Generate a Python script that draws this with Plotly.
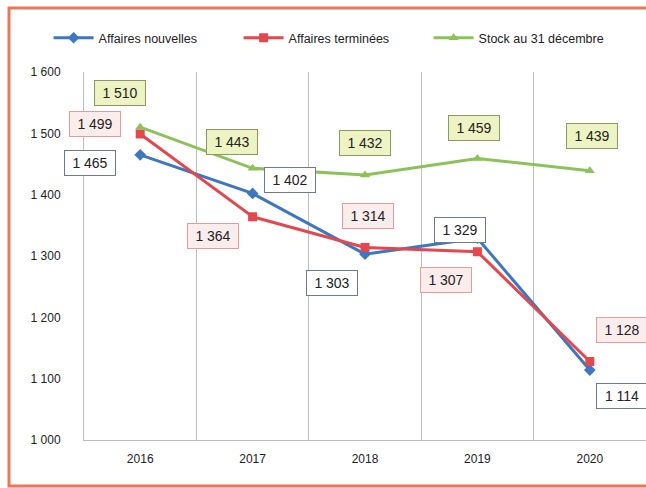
import plotly.graph_objects as go

YEARS = ["2016", "2017", "2018", "2019", "2020"]
NOUVELLES = [1465, 1402, 1303, 1329, 1114]
TERMINEES = [1499, 1364, 1314, 1307, 1128]
STOCK = [1510, 1443, 1432, 1459, 1439]

# label offsets in px (dx, dy), dy positive = up
OFF_NOUV = [(-50, -8), (37, 13), (-33, -29), (-17, 8), (32, -26)]
OFF_TERM = [(-45, 10), (-40, -19), (3, 31), (-31, -28), (32, 31)]
OFF_STOCK = [(-20, 34), (-21, 26), (0, 32), (-3, 30), (2, 35)]

W, H = 646, 488
M = dict(l=84, r=0, t=72, b=48)

SERIES = [
    ("Affaires nouvelles", NOUVELLES, OFF_NOUV, "#3D77C2", "diamond",
     dict(bgcolor="#ffffff", bordercolor="#6E7893")),
    ("Affaires terminées", TERMINEES, OFF_TERM, "#E2484D", "square",
     dict(bgcolor="#FCEDED", bordercolor="#E79A9C")),
    ("Stock au 31 décembre", STOCK, OFF_STOCK, "#8DC25A", "triangle-up",
     dict(bgcolor="#EEF3C4", bordercolor="#8C9860")),
]

xpos = list(range(len(YEARS)))

fig = go.Figure()
annotations = []
for name, vals, offs, color, symbol, box in SERIES:
    fig.add_trace(go.Scatter(
        x=xpos, y=vals, name=name, mode="lines+markers",
        line=dict(color=color, width=3),
        marker=dict(symbol=symbol, size=9, color=color),
    ))
    for xi, v, (dx, dy) in zip(xpos, vals, offs):
        annotations.append(dict(
            x=xi, y=v, xshift=dx, yshift=dy, showarrow=False,
            text=f"{v:,}".replace(",", " "),
            font=dict(size=14, color="#222222"),
            width=44, height=18,
            borderwidth=1, borderpad=3, **box,
        ))

# orange frame around the chart, in paper coords
pw = W - M["l"] - M["r"]
ph = H - M["t"] - M["b"]
fx0 = (9 - M["l"]) / pw
fx1 = (W + 10 - M["l"]) / pw
fy0 = (H - M["b"] - 486) / ph
fy1 = (H - M["b"] - 8) / ph

fig.update_layout(
    width=W, height=H,
    margin=M,
    paper_bgcolor="#ffffff",
    plot_bgcolor="#ffffff",
    separators=", ",
    font=dict(family="Liberation Sans, Arial, sans-serif", size=11, color="#222222"),
    showlegend=True,
    legend=dict(
        orientation="h", x=-0.063, y=1.092, xanchor="left", yanchor="middle",
        entrywidth=135, font=dict(size=12.5, color="#222222"),
        itemwidth=40,
    ),
    xaxis=dict(
        range=[-0.5, len(YEARS) - 0.5],
        tickvals=xpos, ticktext=YEARS, showgrid=False,
        minor=dict(tick0=-0.5, dtick=1, showgrid=True, gridcolor="#BDBDBD", gridwidth=1),
        ticks="", showline=True, linecolor="#BDBDBD", linewidth=1,
        tickfont=dict(size=12, color="#222222"), ticklabelstandoff=8,
        zeroline=False,
    ),
    yaxis=dict(
        range=[1000, 1600], dtick=100, tickformat=",d",
        showgrid=False, zeroline=False, ticks="",
        showline=True, linecolor="#BDBDBD", linewidth=1,
        tickfont=dict(size=12, color="#222222"), ticklabelstandoff=20,
    ),
    annotations=annotations,
    shapes=[dict(
        type="rect", xref="paper", yref="paper",
        x0=fx0, x1=fx1, y0=fy0, y1=fy1,
        line=dict(color="#E9785A", width=3), layer="below",
    )],
)

# drop the default body margin so the figure sits at the page origin
fig.write_html(
    "out.html",
    config={"displayModeBar": False},
    post_script="document.body.style.margin='0';",
)
